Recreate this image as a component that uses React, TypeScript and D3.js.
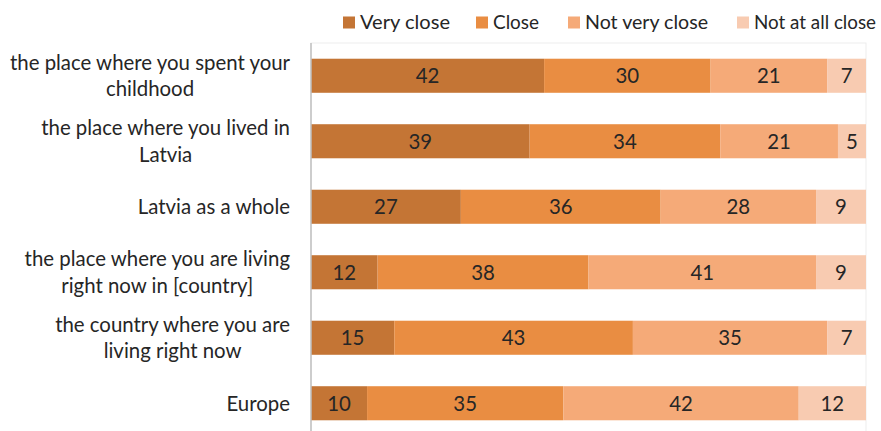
import React, { useEffect, useRef } from "react";
import * as d3 from "d3";

const categories = [
  "the place where you spent your\nchildhood",
  "the place where you lived in\nLatvia",
  "Latvia as a whole",
  "the place where you are living\nright now in [country]",
  "the country where you are\nliving right now",
  "Europe",
];
const seriesNames = ["Very close", "Close", "Not very close", "Not at all close"];
const veryClose = [42, 39, 27, 12, 15, 10];
const close = [30, 34, 36, 38, 43, 35];
const notVeryClose = [21, 21, 28, 41, 35, 42];
const notAtAllClose = [7, 5, 9, 9, 7, 12];
const colors = ["#C47535", "#E98D42", "#F5AA78", "#F8CBB1"];

const W = 881;
const H = 431;
const FONT = "Lato, 'Liberation Sans', sans-serif";
const FS = 20.4;

export default function App() {
  const ref = useRef<SVGSVGElement>(null);
  useEffect(() => {
    const svg = d3.select(ref.current);
    svg.selectAll("*").remove();
    const left = 311, right = 866, top = 43;
    const band = 65.5;
    const x = d3.scaleLinear().domain([0, 1]).range([left, right]);
    const y = d3.scaleBand<number>().domain(d3.range(categories.length)).range([top, top + band * categories.length]).paddingInner(0.48).paddingOuter(0.24);

    const rows = categories.map((c, i) => ({
      c, vals: [veryClose[i], close[i], notVeryClose[i], notAtAllClose[i]],
    }));
    const stack = d3.stack<any>().keys([0, 1, 2, 3] as any).value((d: any, k: any) => d.vals[k]).offset(d3.stackOffsetExpand);
    const series = stack(rows);

    // plot border
    svg.append("rect").attr("x", left).attr("y", top).attr("width", right - left).attr("height", H - top + 10)
      .attr("fill", "none").attr("stroke", "#EDEDED").attr("stroke-width", 1);

    series.forEach((s, k) => {
      const g = svg.append("g");
      g.selectAll("rect").data(s).join("rect")
        .attr("x", (d) => x(d[0]))
        .attr("y", (_d, i) => y(i)!)
        .attr("width", (d) => x(d[1]) - x(d[0]))
        .attr("height", y.bandwidth())
        .attr("fill", colors[k]);
      g.selectAll("text").data(s).join("text")
        .attr("x", (d) => (x(d[0]) + x(d[1])) / 2)
        .attr("y", (_d, i) => y(i)! + y.bandwidth() / 2)
        .attr("dy", "0.36em")
        .attr("text-anchor", "middle")
        .attr("font-family", FONT)
        .attr("font-size", FS)
        .attr("fill", "#262626")
        .text((d: any) => String(d.data.vals[k]));
    });

    // axis line
    svg.append("line").attr("x1", left).attr("x2", left).attr("y1", top).attr("y2", H)
      .attr("stroke", "#BFBFBF").attr("stroke-width", 1.5);

    // category labels
    const labelRight = 290;
    categories.forEach((c, i) => {
      const lines = c.split("\n");
      const g = svg.append("g");
      const cy = y(i)! + y.bandwidth() / 2;
      const lh = 26.5;
      const texts = lines.map((ln, j) =>
        g.append("text")
          .attr("y", cy + (j - (lines.length - 1) / 2) * lh)
          .attr("dy", "0.36em")
          .attr("text-anchor", "middle")
          .attr("font-family", FONT)
          .attr("font-size", FS)
          .attr("fill", "#262626")
          .text(ln)
      );
      const maxW = d3.max(texts, (t) => (t.node() as SVGTextElement).getComputedTextLength()) || 0;
      texts.forEach((t) => t.attr("x", labelRight - maxW / 2));
    });

    // legend
    const legendX = [343, 476, 568, 737];
    const legendW = [90, 46, 123, 122];
    seriesNames.forEach((n, k) => {
      const lx = legendX[k];
      svg.append("rect").attr("x", lx).attr("y", 16.5).attr("width", 12).attr("height", 12).attr("fill", colors[k]);
      svg.append("text").attr("x", lx + 17).attr("y", 22).attr("dy", "0.36em")
        .attr("font-family", FONT).attr("font-size", 19.5).attr("fill", "#262626")
        .attr("textLength", legendW[k]).attr("lengthAdjust", "spacingAndGlyphs").text(n);
    });
  }, []);
  return (
    <svg ref={ref} width={W} height={H} style={{ position: "absolute", left: 0, top: 0, background: "#fff" }} />
  );
}
